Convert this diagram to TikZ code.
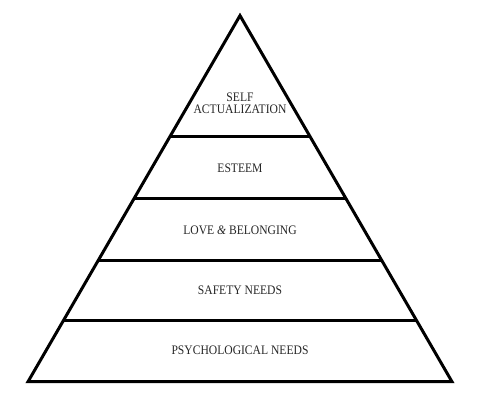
\documentclass[tikz,border=0pt]{standalone}
\usepackage{fontspec}
\setmainfont{Liberation Serif}
\begin{document}
\begin{tikzpicture}[x=1pt,y=-1pt,
  edge/.style={line width=3pt,black},
  lbl/.style={font=\fontsize{11.6}{12.5}\selectfont,text=black!85,align=center,inner sep=0pt,yscale=1.12}]
\useasboundingbox (0,0) rectangle (480,400);
\coordinate (apex) at (240,15.6);
\coordinate (bl) at (28,381.7);
\coordinate (br) at (452,381.7);
\draw[edge,line join=miter] (bl) -- (apex) -- (br) -- cycle;
\foreach \y/\n in {136.7/a,198.3/b,260/c,320.5/d}{
  \path (apex) -- (bl) coordinate[pos={(\y-15.6)/366.1}] (L\n);
  \path (apex) -- (br) coordinate[pos={(\y-15.6)/366.1}] (R\n);
  \draw[edge] (L\n) -- (R\n);
}
\node[lbl] (t1) at (240,103.5) {SELF\\[-1.5pt]ACTUALIZATION};
\node[lbl] (t2) at (240,168.3) {ESTEEM};
\node[lbl] (t3) at (240,230) {LOVE \textit{\&} BELONGING};
\node[lbl] (t4) at (240,290.7) {SAFETY NEEDS};
\node[lbl] (t5) at (240,350.7) {PSYCHOLOGICAL NEEDS};
\end{tikzpicture}
\end{document}
